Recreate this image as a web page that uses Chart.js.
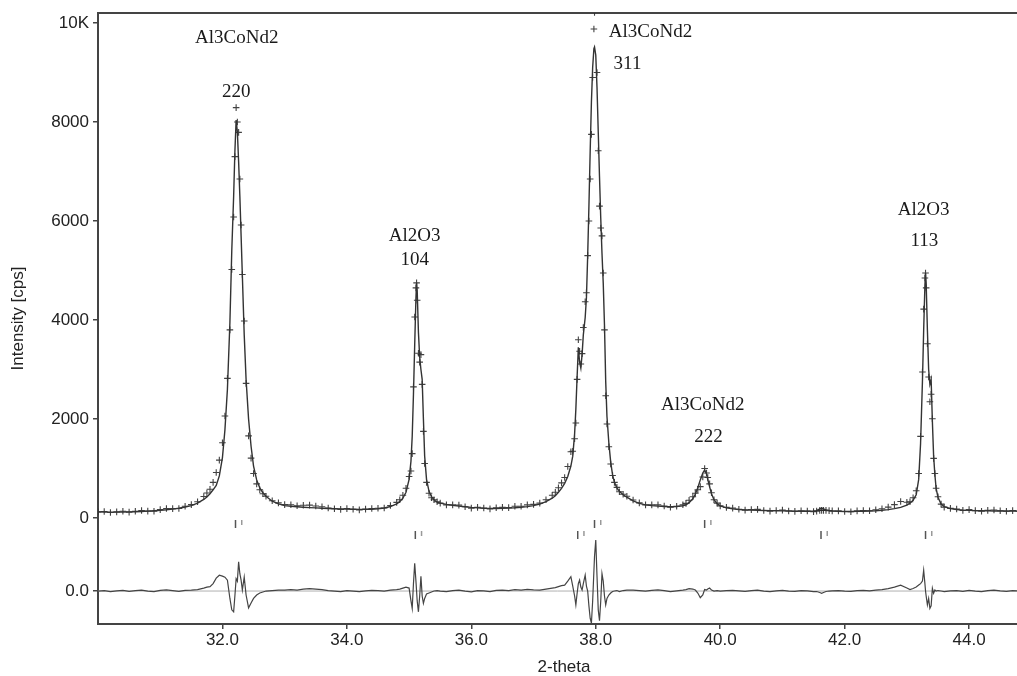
<!DOCTYPE html>
<html><head><meta charset="utf-8">
<script src="https://cdn.jsdelivr.net/npm/chart.js@4.4.1/dist/chart.umd.min.js"></script>
<style>html,body{margin:0;padding:0;background:#fff;}#wrap{width:1017px;height:676px;}</style>
</head><body><div id="wrap"><canvas id="c" width="1017" height="676"></canvas></div>
<script>
// ---- data ----
const twoTheta = [
 30.0,30.1,30.2,30.3,30.4,30.5,30.6,30.7,30.8,30.9,31.0,31.1,31.2,31.3,31.4,
 31.5,31.6,31.7,31.75,31.8,31.85,31.9,31.95,32.0,32.04,32.08,32.12,32.15,32.18,32.2,32.22,32.24,32.26,32.28,32.3,32.32,32.35,32.38,32.42,32.46,32.5,32.55,32.6,32.65,32.7,32.8,32.9,
 33.0,33.1,33.2,33.3,33.4,33.5,33.6,33.7,33.8,33.9,34.0,34.1,34.2,34.3,34.4,34.5,34.6,34.7,34.8,
 34.85,34.9,34.95,35.0,35.03,35.05,35.07,35.09,35.11,35.12,35.13,35.15,35.17,35.19,35.21,35.23,35.25,35.28,35.32,35.36,35.4,35.45,
 35.5,35.6,35.7,35.8,35.9,36.0,36.1,36.2,36.3,36.4,36.5,36.6,36.7,36.8,36.9,37.0,37.1,37.2,37.3,
 37.35,37.4,37.45,37.5,37.55,37.6,37.63,37.66,37.68,37.7,37.72,37.74,37.76,37.78,37.8,37.83,37.85,37.87,37.89,37.91,37.93,37.95,37.97,37.98,38.0,38.02,38.04,38.06,38.08,38.1,38.12,38.14,38.16,38.18,38.21,38.24,38.27,38.3,38.34,38.38,38.44,38.5,
 38.6,38.7,38.8,38.9,39.0,39.1,39.2,39.3,39.4,
 39.45,39.5,39.56,39.6,39.64,39.68,39.72,39.75,39.78,39.8,39.83,39.86,39.9,39.95,
 40.0,40.1,40.2,40.3,40.4,40.5,40.6,40.7,40.8,40.9,41.0,41.1,41.2,41.3,41.4,41.5,
 41.55,41.6,41.63,41.66,41.7,41.75,
 41.8,41.9,42.0,42.1,42.2,42.3,42.4,42.5,42.6,42.7,42.8,42.9,43.0,
 43.05,43.1,43.15,43.19,43.22,43.25,43.27,43.29,43.3,43.31,43.33,43.35,43.37,43.39,43.41,43.43,43.45,43.47,43.5,43.55,43.6,43.7,
 43.8,43.9,44.0,44.1,44.2,44.3,44.4,44.5,44.6,44.7,44.8
];
const yCalc = [
 125,122,120,120,122,125,128,133,139,146,155,166,180,198,222,
 250,300,375,425,490,570,660,850,1220,1780,2600,3950,5400,6500,7400,8040,7800,7200,6500,5700,4900,3700,2800,2000,1450,1050,770,610,510,440,340,285,
 250,238,228,218,210,204,198,193,188,184,180,177,175,175,178,186,203,232,285,
 330,400,520,780,1150,1650,2500,3500,4450,4750,4600,3750,3250,3000,2800,2000,1250,780,540,430,370,320,
 300,275,255,240,228,215,205,198,194,193,195,200,207,217,230,250,280,330,400,
 450,520,600,700,840,1050,1250,1700,2200,2850,3450,3150,3030,3300,3700,4050,4450,5300,6300,7400,8400,9100,9480,9515,9350,8700,7800,6900,6060,5350,4750,3900,2750,2050,1520,1130,870,720,610,540,470,420,
 345,295,265,250,240,232,228,232,248,
 265,310,390,480,610,770,910,970,890,780,630,490,370,290,
 245,205,185,172,165,160,155,152,150,148,145,142,140,138,138,140,
 150,185,200,185,165,150,
 140,135,133,133,135,138,142,148,158,170,190,215,260,
 300,360,470,780,1500,2750,3800,4700,4950,4750,3800,3000,2700,2800,1950,1250,880,600,420,280,230,190,
 172,160,155,150,147,145,143,142,141,140,140
];
const yDiff = [
 0,10,-10,5,15,-5,10,20,0,-10,15,25,10,-5,15,
 20,30,60,80,90,150,260,320,300,280,220,-150,-380,-420,-100,250,200,590,350,220,20,280,-80,-340,-240,-150,-80,-40,-20,0,10,20,
 20,30,20,40,50,40,30,10,0,-10,10,0,-10,5,15,10,0,20,30,
 40,60,80,60,-200,-350,150,560,200,0,-200,-420,-100,300,-100,-250,-150,-60,-40,-20,0,10,
 0,-10,10,20,0,-15,10,5,-10,15,20,10,30,20,35,25,20,40,60,
 70,90,110,120,200,290,100,-100,-280,-50,150,220,80,20,150,320,100,0,-300,-550,-650,-200,400,700,1030,300,-380,-600,-200,350,200,-100,-280,-150,-80,-40,-10,0,10,-10,10,20,
 20,10,0,15,25,10,-10,5,20,
 30,50,40,20,-40,-135,-80,30,20,40,60,20,0,10,
 0,10,15,5,-5,10,20,0,-10,5,15,0,-5,10,5,-10,
 -10,-30,-45,-30,-10,0,
 5,10,0,-5,10,15,5,20,30,50,80,120,60,
 30,50,80,120,150,200,420,150,0,-100,-280,-150,-350,-300,55,-45,20,0,10,0,-10,5,
 10,-5,15,0,-10,10,20,5,-5,10,0
];
// reflection positions (K-alpha1 and K-alpha2)
const al3CoNd2Ka1 = [32.21, 37.98, 39.75];
const al3CoNd2Ka2 = [32.31, 38.08, 39.85];
const al2o3Ka1 = [35.10, 37.71, 41.62, 43.30];
const al2o3Ka2 = [35.20, 37.81, 41.72, 43.40];
const xTickValues = [32, 34, 36, 38, 40, 42, 44];
const yTickValues = [0, 2000, 4000, 6000, 8000, 10000];
const peakLabelTexts = [['Al3CoNd2','220'], ['Al2O3','104'], ['Al3CoNd2','311'], ['Al3CoNd2','222'], ['Al2O3','113']];
const xTitle = '2-theta';
const yTitle = 'Intensity [cps]';

// ---- layout (positions in data units) ----
const X_MIN = 30, X_MAX = 44.77, Y_MIN = -2141, Y_MAX = 10202;
const DIFF_ZERO = -1475;            // where the difference curve's 0 sits on the intensity axis
const ROW1 = {ka1: -121, ka2: -91}; // Al3CoNd2 tick row
const ROW2 = {ka1: -343, ka2: -313};// Al2O3 tick row
const X_TITLE_AT = 37.49;           // horizontal centre of the x-axis title
const labelPos = [
  [[32.23, 9697], [32.22, 8606]],
  [[35.09, 5697], [35.09, 5212]],
  [[38.88, 9818], [38.51, 9172]],
  [[39.72, 2283], [39.81, 1636]],
  [[43.27, 6222], [43.28, 5596]]
];

if (twoTheta.length !== yCalc.length || twoTheta.length !== yDiff.length) console.error('length mismatch', twoTheta.length, yCalc.length, yDiff.length);

const calcPts = twoTheta.map((t, i) => ({x: t, y: yCalc[i]}));
const obsPts = twoTheta.map((t, i) => ({x: t, y: yCalc[i] + yDiff[i]}));
const diffPts = twoTheta.map((t, i) => ({x: t, y: yDiff[i]}));
const rowPts = (arr, y) => arr.map(t => ({x: t, y: y}));

const labelPlugin = {
  id: 'peakLabels',
  afterDraw(chart) {
    const {ctx, scales: {x, y}} = chart;
    ctx.save();
    ctx.fillStyle = '#1a1a1a';
    ctx.font = '19px "Liberation Serif", "DejaVu Serif", serif';
    ctx.textAlign = 'center';
    ctx.textBaseline = 'middle';
    peakLabelTexts.forEach((lines, i) => {
      lines.forEach((txt, j) => {
        const p = labelPos[i][j];
        ctx.fillText(txt, x.getPixelForValue(p[0]), y.getPixelForValue(p[1]));
      });
    });
    // x-axis title
    ctx.fillStyle = '#222';
    ctx.font = '17px "Liberation Sans", Arial, sans-serif';
    ctx.fillText(xTitle, x.getPixelForValue(X_TITLE_AT), chart.height - 8.5);
    ctx.restore();
  }
};

const axisFont = {family: '"Liberation Sans", Arial, sans-serif', size: 17, lineHeight: 1};
const noSidePad = s => { s.paddingLeft = 0; s.paddingRight = 0; };

new Chart(document.getElementById('c'), {
  type: 'scatter',
  data: {
    datasets: [
      {label: 'calc', data: calcPts, showLine: true, borderColor: '#333', borderWidth: 1.4, pointRadius: 0, tension: 0, yAxisID: 'y'},
      {label: 'diff', data: diffPts, showLine: true, borderColor: '#444', borderWidth: 1.2, pointRadius: 0, tension: 0, yAxisID: 'yd'},
      {label: 'zero', data: [{x: X_MIN, y: 0}, {x: X_MAX, y: 0}], showLine: true, borderColor: '#b0b0b0', borderWidth: 1, pointRadius: 0, yAxisID: 'yd'},
      {label: 'obs', data: obsPts, showLine: false, pointStyle: 'cross', pointRadius: 3.3, borderColor: 'rgba(45,45,45,0.9)', borderWidth: 1.1, yAxisID: 'y'},
      {label: 'r1a', data: rowPts(al3CoNd2Ka1, ROW1.ka1), pointStyle: 'line', rotation: 90, pointRadius: 4, borderColor: '#555', borderWidth: 1.5, yAxisID: 'y'},
      {label: 'r1b', data: rowPts(al3CoNd2Ka2, ROW1.ka2), pointStyle: 'line', rotation: 90, pointRadius: 2.5, borderColor: '#999', borderWidth: 1.5, yAxisID: 'y'},
      {label: 'r2a', data: rowPts(al2o3Ka1, ROW2.ka1), pointStyle: 'line', rotation: 90, pointRadius: 4, borderColor: '#555', borderWidth: 1.5, yAxisID: 'y'},
      {label: 'r2b', data: rowPts(al2o3Ka2, ROW2.ka2), pointStyle: 'line', rotation: 90, pointRadius: 2.5, borderColor: '#999', borderWidth: 1.5, yAxisID: 'y'}
    ]
  },
  options: {
    responsive: false,
    animation: false,
    devicePixelRatio: 1,
    layout: {padding: 0, autoPadding: false},
    plugins: {legend: {display: false}, tooltip: {enabled: false}},
    scales: {
      x: {
        type: 'linear', position: 'bottom', min: X_MIN, max: X_MAX,
        afterFit(s) { s.height = 52; noSidePad(s); },
        afterBuildTicks(s) { s.ticks = xTickValues.map(v => ({value: v})); },
        ticks: {callback: v => Number(v).toFixed(1), font: axisFont, color: '#222', padding: 3, maxRotation: 0, autoSkip: false},
        grid: {drawOnChartArea: false, drawTicks: true, tickLength: 5, color: '#444', lineWidth: 1.5},
        border: {display: true, color: '#444', width: 2},
        title: {display: false}
      },
      xTop: {
        type: 'linear', position: 'top', min: X_MIN, max: X_MAX,
        afterFit(s) { s.height = 13; noSidePad(s); },
        ticks: {display: false},
        grid: {drawOnChartArea: false, drawTicks: false},
        border: {display: true, color: '#444', width: 2}
      },
      y: {
        type: 'linear', position: 'left', min: Y_MIN, max: Y_MAX,
        afterFit(s) { s.width = 98; s.paddingTop = 0; s.paddingBottom = 0; },
        afterBuildTicks(s) { s.ticks = [DIFF_ZERO].concat(yTickValues).map(v => ({value: v})); },
        ticks: {callback: v => v === DIFF_ZERO ? '0.0' : (v === 10000 ? '10K' : String(v)), font: axisFont, color: '#222', padding: 4, autoSkip: false},
        grid: {drawOnChartArea: false, drawTicks: true, tickLength: 5, color: '#444', lineWidth: 1.5},
        border: {display: true, color: '#444', width: 2},
        title: {display: true, text: yTitle, font: {family: '"Liberation Sans", Arial, sans-serif', size: 17, lineHeight: 1}, color: '#222', padding: {top: 10, bottom: 0}}
      },
      yd: {
        type: 'linear', display: false, min: Y_MIN - DIFF_ZERO, max: Y_MAX - DIFF_ZERO
      }
    }
  },
  plugins: [labelPlugin]
});
</script>
</body></html>
